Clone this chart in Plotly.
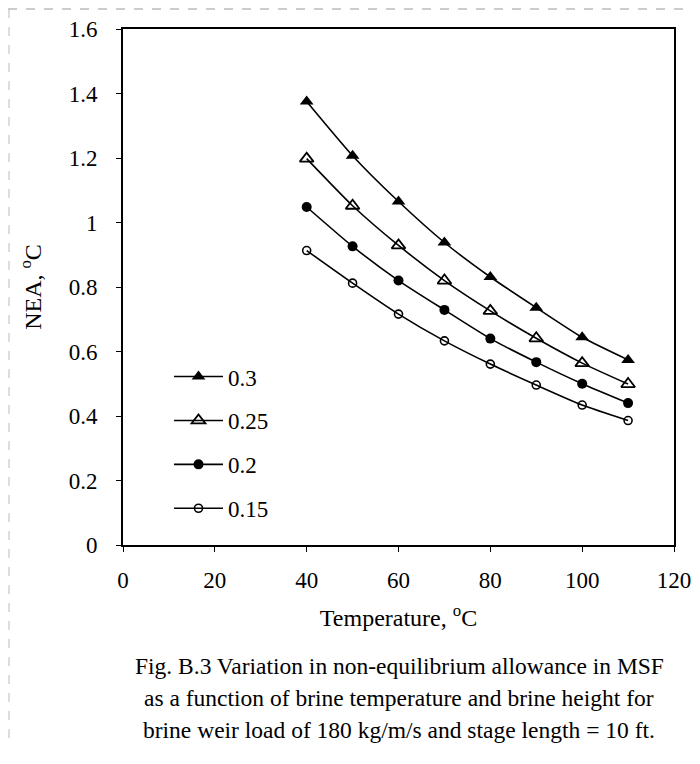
import plotly.graph_objects as go

temperature = [40, 50, 60, 70, 80, 90, 100, 110]
nea_030 = [1.375, 1.207, 1.065, 0.938, 0.831, 0.736, 0.644, 0.574]
nea_025 = [1.198, 1.052, 0.929, 0.820, 0.726, 0.641, 0.564, 0.499]
nea_020 = [1.048, 0.926, 0.820, 0.729, 0.640, 0.567, 0.500, 0.440]
nea_015 = [0.913, 0.812, 0.716, 0.633, 0.561, 0.496, 0.434, 0.386]
series_names = ["0.3", "0.25", "0.2", "0.15"]
x_ticks = [0, 20, 40, 60, 80, 100, 120]
y_ticks = [0, 0.2, 0.4, 0.6, 0.8, 1.0, 1.2, 1.4, 1.6]
y_tick_labels = ["0", "0.2", "0.4", "0.6", "0.8", "1", "1.2", "1.4", "1.6"]

FONT = "Liberation Serif, Times New Roman, serif"

series = [nea_030, nea_025, nea_020, nea_015]
markers = [
    dict(symbol="triangle-up", size=12, color="black"),
    dict(symbol="triangle-up-open", size=12, color="black", line=dict(width=1.8, color="black")),
    dict(symbol="circle", size=10, color="black"),
    dict(symbol="circle-open", size=8, color="black", line=dict(width=1.6, color="black")),
]

# page geometry (page has an 8px body margin)
PL, PR, PT, PB = 123, 674, 29, 545
OFF = 8
W, H = 692, 738


def px_x(x):
    return (x - PL) / (PR - PL)


def px_y(y):
    return (PB - y) / (PB - PT)


fig = go.Figure()
for i, (name, vals, mk) in enumerate(zip(series_names, series, markers)):
    fig.add_trace(go.Scatter(
        x=temperature, y=vals, name=name, mode="lines+markers",
        line=dict(color="black", width=1.6, shape="spline", smoothing=0.6),
        marker=mk, legendgroup=f"g{i}",
    ))

fig.update_layout(
    width=W, height=H,
    margin=dict(l=PL - OFF, r=W - (PR - OFF), t=PT - OFF, b=H - (PB - OFF),
                autoexpand=False),
    paper_bgcolor="white", plot_bgcolor="white",
    font=dict(family=FONT, size=23, color="black"),
    showlegend=True,
    legend=dict(x=px_x(169), y=0.368, xanchor="left", yanchor="top",
                bgcolor="rgba(0,0,0,0)", tracegroupgap=11,
                font=dict(family=FONT, size=23), itemwidth=49),
    xaxis=dict(range=[0, 120], tickvals=x_ticks, ticks="outside", ticklen=5,
               tickwidth=1, tickcolor="black", showline=True, linecolor="black",
               linewidth=2, mirror=True, showgrid=False, zeroline=False,
               ticklabelstandoff=8, ticklabeloverflow="allow", automargin=False,
               title=dict(text="Temperature, <sup>o</sup>C", standoff=18,
                          font=dict(family=FONT, size=24))),
    yaxis=dict(range=[0, 1.6], tickvals=y_ticks, ticktext=y_tick_labels,
               ticks="outside", ticklen=5, tickwidth=1, tickcolor="black",
               showline=True, linecolor="black", linewidth=2, mirror=True,
               showgrid=False, zeroline=False, ticklabelstandoff=14,
               automargin=False,
               title=dict(text="NEA, <sup>o</sup>C", standoff=20,
                          font=dict(family=FONT, size=24))),
)

caption = [
    "Fig. B.3 Variation in non-equilibrium allowance in MSF",
    "as a function of brine temperature and brine height for",
    "brine weir load of 180 kg/m/s and stage length = 10 ft.",
]
caption_y_px = [666, 698, 730]
for text, ypx in zip(caption, caption_y_px):
    fig.add_annotation(text=text, xref="paper", yref="paper",
                       x=px_x(399), y=px_y(ypx),
                       xanchor="center", yanchor="middle", showarrow=False,
                       font=dict(family=FONT, size=23.5, color="black"))

# faint scan border lines
fig.add_shape(type="line", xref="paper", yref="paper",
              x0=px_x(8), x1=px_x(700), y0=px_y(9), y1=px_y(9),
              line=dict(color="#999999", width=1, dash="dash"))
fig.add_shape(type="line", xref="paper", yref="paper",
              x0=px_x(9), x1=px_x(9), y0=px_y(9), y1=px_y(746),
              line=dict(color="#bbbbbb", width=1, dash="dash"))

fig.write_html("out.html")
